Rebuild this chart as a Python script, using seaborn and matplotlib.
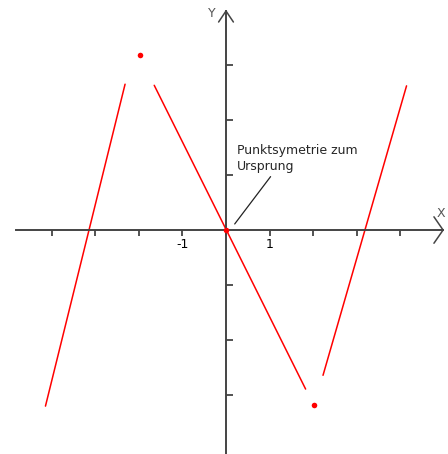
import seaborn as sns
import pandas as pd
import matplotlib.pyplot as plt
import numpy as np

# piecewise sketch of an odd function, three segments with gaps near the extrema
seg_left_x = [-4.15, -2.32]
seg_left_y = [-3.20, 2.65]
seg_mid_x = [-1.65, 1.83]
seg_mid_y = [2.63, -2.89]
seg_right_x = [2.23, 4.15]
seg_right_y = [-2.64, 2.62]

dots_x = [-1.97, 0.0, 2.02]
dots_y = [3.18, 0.0, -3.18]

x_ticks = [-4, -3, -2, -1, 0, 1, 2, 3, 4]
x_tick_labels = ['', '', '', '-1', '', '1', '', '', '']
y_ticks = [-3, -2, -1, 1, 2, 3]

note_text = 'Punktsymetrie zum\nUrsprung'

sns.set_style('white')
plt.rcParams['font.family'] = ['DejaVu Sans']

segs = pd.concat([
    pd.DataFrame({'x': seg_left_x, 'y': seg_left_y, 'seg': 'a'}),
    pd.DataFrame({'x': seg_mid_x, 'y': seg_mid_y, 'seg': 'b'}),
    pd.DataFrame({'x': seg_right_x, 'y': seg_right_y, 'seg': 'c'}),
])
dots = pd.DataFrame({'x': dots_x, 'y': dots_y})

fig = plt.figure(figsize=(4.48, 4.54), dpi=100)
ax = fig.add_axes([0, 0, 1, 1])

sns.lineplot(data=segs, x='x', y='y', units='seg', estimator=None, sort=False,
             color='#ff0000', linewidth=1.1, ax=ax)
sns.scatterplot(data=dots, x='x', y='y', color='#ff0000', s=16,
                edgecolor='#ff0000', linewidth=0, ax=ax, zorder=5)

ax.set_xlim(-5.195, 5.103)
ax.set_ylim(-4.07, 4.18)

# axes through the origin
axis_c = '#444444'
for side in ['top', 'right']:
    ax.spines[side].set_visible(False)
ax.spines['left'].set_position(('data', 0))
ax.spines['bottom'].set_position(('data', 0))
ax.spines['left'].set_bounds(-4.2, 3.98)
ax.spines['bottom'].set_bounds(-4.83, 4.99)
for side in ['left', 'bottom']:
    ax.spines[side].set_color(axis_c)
    ax.spines[side].set_linewidth(1.4)

ax.set_xticks(x_ticks)
ax.set_xticklabels(x_tick_labels, fontsize=9)
ax.set_yticks(y_ticks)
ax.set_yticklabels([])
ax.tick_params(axis='x', bottom=True, direction='out', length=4, width=1.3,
               color=axis_c, pad=2, labelcolor='black')
ax.tick_params(axis='y', left=True, direction='in', length=5, width=1.3,
               color=axis_c)
ax.set_xlabel('')
ax.set_ylabel('')

# arrow heads
ax.plot([4.78, 4.99, 4.78], [0.24, 0.0, -0.24], color=axis_c, lw=1.1)
ax.plot([-0.17, 0.0, 0.17], [3.78, 3.98, 3.78], color=axis_c, lw=1.1)
ax.text(4.95, 0.18, 'X', fontsize=9, color='#555555', ha='center', va='bottom')
ax.text(-0.33, 3.82, 'Y', fontsize=9, color='#555555', ha='center', va='bottom')

ax.annotate(note_text, xy=(0.2, 0.11), xytext=(0.25, 1.03),
            fontsize=9, ha='left', va='bottom', linespacing=1.35,
            arrowprops=dict(arrowstyle='-', color='#222222', lw=0.9,
                            shrinkA=0, shrinkB=0, relpos=(0.3, 0.0)))

fig.savefig('out.png', dpi=100)
